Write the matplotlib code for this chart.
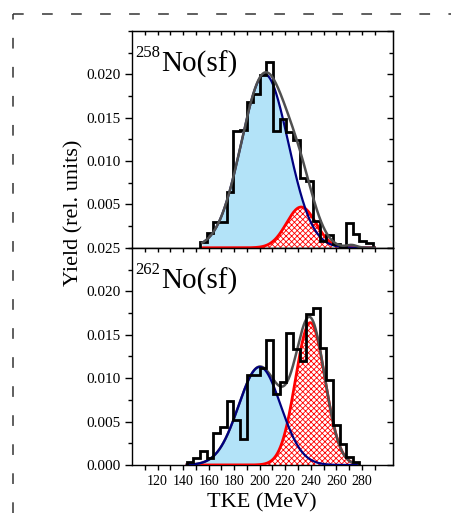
import numpy as np
import matplotlib
matplotlib.use('Agg')
import matplotlib.pyplot as plt
from matplotlib.lines import Line2D
from matplotlib.ticker import MultipleLocator, FixedLocator, FormatStrFormatter, NullFormatter

plt.rcParams['font.family'] = ['Liberation Serif', 'DejaVu Serif']
plt.rcParams['hatch.color'] = 'red'
plt.rcParams['hatch.linewidth'] = 0.6

# TKE histograms (MeV, rel. yield)
bin_w = 5.2
start_258 = 153.3
counts_258 = [0.0007, 0.0017, 0.0030, 0.0030, 0.0064, 0.0135, 0.0136, 0.0168,
              0.0177, 0.0199, 0.0214, 0.0135, 0.0149, 0.0134, 0.0124, 0.0081,
              0.0077, 0.0031, 0.0008, 0.0015, 0.0004, 0.0000, 0.0029, 0.0016,
              0.0008, 0.0005]
start_262 = 142.9
counts_262 = [0.0003, 0.00085, 0.0016, 0.00085, 0.0037, 0.0044, 0.0074, 0.0052,
              0.0030, 0.0104, 0.0104, 0.0112, 0.0144, 0.0082, 0.0096, 0.0152,
              0.0134, 0.0120, 0.0174, 0.0181, 0.0135, 0.0098, 0.0046, 0.0024,
              0.00096, 0.0004]

# gaussian fit components (amplitude, centre, sigma)
low_258 = (0.0200, 204.0, 18.4)
high_258 = (0.0047, 232.5, 11.5)
tail_258 = (0.0003, 272.0, 4.0)
low_262 = (0.0113, 200.0, 16.5)
high_262 = (0.0164, 239.6, 11.5)
range_258 = (155, 290)
range_262 = (143, 276)

xmaj = [120, 140, 160, 180, 200, 220, 240, 260, 280]
xmin = [110, 130, 150, 170, 190, 210, 230, 250, 270, 290]


def gauss(x, p):
    a, m, s = p
    return a * np.exp(-(x - m) ** 2 / (2 * s ** 2))


def panel(ax, start, counts, low, high, extra, rng, iso, gray_top):
    e = np.linspace(rng[0], rng[1], 600)
    yl = gauss(e, low)
    yh = gauss(e, high)
    tot = yl + yh
    if extra is not None:
        tot = tot + gauss(e, extra)
    ax.fill_between(e, 0, yl, color='#b3e3f8', lw=0, zorder=1)
    ax.fill_between(e, 0, yh, facecolor='white', edgecolor='red', hatch='xxxxxx', lw=0, zorder=2)
    ax.plot(e, yh, color='red', lw=2, zorder=3)
    ax.plot(e, yl, color='#000080', lw=1.6, zorder=4)
    edges = start + bin_w * np.arange(len(counts) + 1)
    ax.stairs(counts, edges, baseline=0, color='black', lw=2, zorder=5)
    ax.plot(e, tot, color='#505050', lw=1.8, zorder=6 if gray_top else 3.5)

    ax.set_xlim(100, 304)
    ax.set_ylim(0, 0.025)
    ax.xaxis.set_major_locator(FixedLocator(xmaj))
    ax.xaxis.set_minor_locator(FixedLocator(xmin))
    ax.yaxis.set_major_locator(MultipleLocator(0.005))
    ax.yaxis.set_minor_locator(MultipleLocator(0.0025))
    ax.yaxis.set_major_formatter(FormatStrFormatter('%.3f'))
    ax.tick_params(axis='y', which='major', direction='out', length=5, width=1, labelsize=11)
    ax.tick_params(axis='y', which='minor', direction='out', length=3, width=1)
    ax.tick_params(axis='x', which='major', direction='out', length=3.5, width=1, labelsize=10)
    ax.tick_params(axis='x', which='minor', direction='out', length=3.5, width=1)
    for s in ax.spines.values():
        s.set_linewidth(1.0)

    ry = ax.secondary_yaxis('right')
    ry.yaxis.set_major_locator(MultipleLocator(0.005))
    ry.yaxis.set_minor_locator(MultipleLocator(0.0025))
    ry.yaxis.set_major_formatter(NullFormatter())
    ry.tick_params(which='major', direction='in', length=4.5, width=1)
    ry.tick_params(which='minor', direction='in', length=3, width=1)
    tx = ax.secondary_xaxis('top')
    tx.xaxis.set_major_locator(FixedLocator(xmaj))
    tx.xaxis.set_minor_locator(FixedLocator(xmin))
    tx.xaxis.set_major_formatter(NullFormatter())
    tx.tick_params(which='both', direction='in', length=3, width=1)

    ax.text(0.012, 0.882, iso, transform=ax.transAxes, fontsize=12, va='baseline', ha='left')
    ax.text(0.112, 0.813, 'No(sf)', transform=ax.transAxes, fontsize=21, va='baseline', ha='left')


fig = plt.figure(figsize=(4.51, 5.13), dpi=100)
ax1 = fig.add_axes([0.2927, 0.517, 0.5776, 0.4226])
ax2 = fig.add_axes([0.2927, 0.0936, 0.5776, 0.4230])

panel(ax1, start_258, counts_258, low_258, high_258, tail_258, range_258, '258', True)
panel(ax2, start_262, counts_262, low_262, high_262, None, range_262, '262', False)

ax1.set_yticks([0.005, 0.010, 0.015, 0.020])
ax1.tick_params(axis='x', labelbottom=False)
ax2.set_xlabel('TKE (MeV)', fontsize=16, labelpad=4)
fig.text(0.163, 0.585, 'Yield (rel. units)', rotation=90, fontsize=16, ha='center', va='center')

# dashed frame
fig.add_artist(Line2D([13 / 451, 1], [1 - 13.5 / 513] * 2, transform=fig.transFigure,
                      color='#333333', lw=1.1, linestyle=(0, (7, 12))))
fig.add_artist(Line2D([13 / 451] * 2, [0, 1 - 13.5 / 513], transform=fig.transFigure,
                      color='#333333', lw=1.1, linestyle=(0, (7, 12))))

fig.savefig('out.png', dpi=100)
